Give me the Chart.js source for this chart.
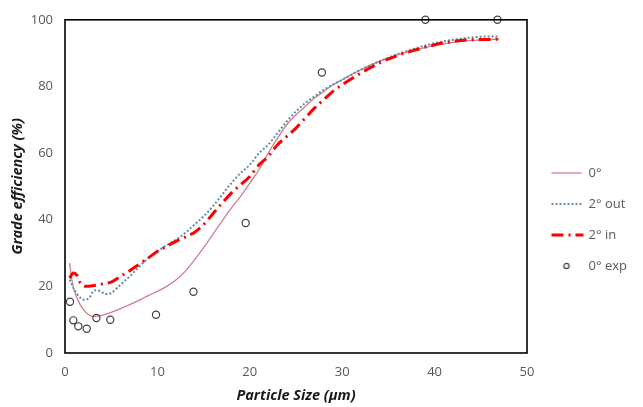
<!DOCTYPE html>
<html>
<head>
<meta charset="utf-8">
<script src="https://cdn.jsdelivr.net/npm/chart.js@4.4.1/dist/chart.umd.min.js"></script>
<style>
  html, body { margin: 0; padding: 0; background: #fff; }
  #wrap { width: 643px; height: 407px; position: relative; }
</style>
</head>
<body>
<div id="wrap"><canvas id="c"></canvas></div>
<script>
// ---- Data ----
const seriesNames = ['0°', '2° out', '2° in', '0° exp'];

const x0 = [0.5, 0.8, 1.3, 2, 3, 4, 5, 6, 7, 8, 9, 10, 11, 12, 13, 14, 15, 16, 17, 18, 19, 20, 21, 22, 23, 24, 25, 26, 27, 28, 29, 30, 32, 34, 36, 38, 40, 42, 44, 46, 47];
const y0 = [27, 21, 16.5, 13, 11, 11.3, 12.2, 13.3, 14.5, 15.8, 17.2, 18.5, 20, 21.9, 24.5, 27.9, 31.6, 35.6, 39.6, 43.5, 47, 51, 55, 60, 64.5, 68.5, 71.5, 74, 76.5, 78.5, 80.5, 82, 85, 87.5, 89.5, 91, 92.3, 93.2, 93.8, 94.1, 94.2];

const x2out = [0.5, 1, 1.5, 2, 2.6, 3.2, 3.8, 4.4, 5, 6, 7, 8, 9, 10, 11, 12, 13, 14, 15, 16, 17, 18, 19, 20, 21, 22, 23, 24, 25, 26, 27, 28, 30, 32, 34, 36, 38, 40, 42, 44, 46, 47];
const y2out = [22, 19, 17, 16, 16.5, 18.8, 18.6, 17.7, 18, 20.5, 23, 25.8, 28.5, 30.5, 32.3, 34, 36, 38.5, 41, 44, 47.5, 51, 54, 56.5, 60, 62.5, 66, 69.5, 72.5, 75, 77, 79, 82, 85, 87.5, 89.7, 91.5, 93, 94, 94.7, 95, 95];

const x2in = [0.5, 0.9, 1.3, 1.6, 2.2, 3, 4, 5, 6, 7, 8, 9, 10, 11, 12, 13, 14, 15, 16, 17, 18, 19, 20, 21, 22, 23, 24, 25, 26, 27, 28, 29, 30, 32, 34, 36, 38, 40, 42, 44, 46, 47];
const y2in = [22.5, 24, 23.3, 21.3, 20, 20.2, 20.7, 21.3, 23, 24.7, 26.6, 28.5, 30.5, 32, 33.5, 34.8, 36.2, 38.5, 41.8, 45, 48, 50.5, 53, 56.5, 59, 62.5, 65, 67.5, 70.5, 73.5, 76, 78.5, 80.5, 84, 87, 89.3, 91, 92.5, 93.5, 94, 94.1, 94.2];

const xExp = [0.54, 0.9, 1.44, 2.35, 3.4, 4.9, 9.85, 13.9, 19.55, 27.8, 39, 46.8];
const yExp = [15.4, 9.8, 8.0, 7.3, 10.5, 10.0, 11.5, 18.4, 39.0, 84.2, 100, 100];

const xTicks = [0, 10, 20, 30, 40, 50];
const yTicks = [0, 20, 40, 60, 80, 100];

const xTitle = 'Particle Size (µm)';
const yTitle = 'Grade efficiency (%)';

// ---- helpers ----
const pts = (xs, ys) => xs.map((x, i) => ({ x: x, y: ys[i] }));

function legendCanvas(kind) {
  const c = document.createElement('canvas');
  c.width = 44; c.height = 8;
  const g = c.getContext('2d');
  const y = 4;
  if (kind === 'solid') {
    g.strokeStyle = '#cf7f86'; g.lineWidth = 1.3;
    g.beginPath(); g.moveTo(10, y); g.lineTo(40, y); g.stroke();
  } else if (kind === 'dot') {
    g.strokeStyle = '#5f8ea6'; g.lineWidth = 2; g.setLineDash([2, 2]);
    g.beginPath(); g.moveTo(10, y); g.lineTo(40, y); g.stroke();
  } else if (kind === 'dashdot') {
    g.strokeStyle = '#ff0000'; g.lineWidth = 3; g.setLineDash([12, 5, 2, 5]);
    g.beginPath(); g.moveTo(10, y); g.lineTo(42, y); g.stroke();
  } else {
    g.strokeStyle = '#404040'; g.lineWidth = 1.2;
    g.beginPath(); g.arc(25, y, 2.6, 0, Math.PI * 2); g.stroke();
  }
  return c;
}
const legendStyles = [legendCanvas('solid'), legendCanvas('dot'), legendCanvas('dashdot'), legendCanvas('circle')];

const frame = {
  id: 'frame',
  afterDatasetsDraw(chart) {
    const a = chart.chartArea, ctx = chart.ctx;
    ctx.save();
    ctx.strokeStyle = '#000';
    ctx.lineWidth = 1.6;
    ctx.strokeRect(a.left, a.top, a.right - a.left, a.bottom - a.top);
    ctx.restore();
  }
};

const legendFix = {
  id: 'legendFix',
  beforeInit(chart) {
    const lg = chart.legend;
    if (!lg) return;
    const fit = lg.fit;
    lg.fit = function () { fit.call(this); this.width = 116; };
  }
};

const tickFont = { family: '"Open Sans", sans-serif', size: 13 };
const titleFont = { family: '"Open Sans", sans-serif', size: 14.5, weight: 'bold', style: 'italic' };

new Chart(document.getElementById('c'), {
  type: 'scatter',
  data: {
    datasets: [
      {
        label: seriesNames[0], data: pts(x0, y0), showLine: true,
        borderColor: '#cf7f86', borderWidth: 1.3, pointRadius: 0,
        cubicInterpolationMode: 'monotone', order: 3
      },
      {
        label: seriesNames[1], data: pts(x2out, y2out), showLine: true,
        borderColor: '#5f8ea6', borderWidth: 2, borderDash: [2, 2], pointRadius: 0,
        cubicInterpolationMode: 'monotone', order: 2
      },
      {
        label: seriesNames[2], data: pts(x2in, y2in), showLine: true,
        borderColor: '#ff0000', borderWidth: 3, borderDash: [12, 5, 2, 5], pointRadius: 0,
        cubicInterpolationMode: 'monotone', order: 1
      },
      {
        label: seriesNames[3], data: pts(xExp, yExp), showLine: false,
        borderColor: '#404040', backgroundColor: 'rgba(0,0,0,0)', borderWidth: 1.2,
        pointRadius: 3.6, pointStyle: 'circle', clip: false, order: 0
      }
    ]
  },
  options: {
    responsive: true,
    maintainAspectRatio: false,
    animation: false,
    layout: { padding: { top: 16, right: 0, bottom: 0, left: 0 } },
    scales: {
      x: {
        type: 'linear', min: 0, max: 50,
        afterBuildTicks: s => { s.ticks = xTicks.map(v => ({ value: v })); },
        afterFit: s => { s.height = 54; },
        grid: { display: false, drawTicks: false },
        border: { display: false },
        ticks: { color: '#595959', font: tickFont, padding: 11 },
        title: { display: true, text: xTitle, color: '#1a1a1a', font: titleFont, padding: { top: 0, bottom: 2 } }
      },
      y: {
        type: 'linear', min: 0, max: 100,
        afterBuildTicks: s => { s.ticks = yTicks.map(v => ({ value: v })); },
        afterFit: s => { s.width = 65; },
        grid: { display: false, drawTicks: false },
        border: { display: false },
        ticks: { color: '#595959', font: tickFont, padding: 12 },
        title: { display: true, text: yTitle, color: '#1a1a1a', font: titleFont, padding: { top: 9, bottom: 0 } }
      }
    },
    plugins: {
      tooltip: { enabled: false },
      legend: {
        position: 'right',
        align: 'center',
        title: { display: true, text: ' ', font: { size: 10 }, padding: 2 },
        labels: {
          usePointStyle: true,
          pointStyleWidth: 37,
          padding: 18,
          color: '#595959',
          font: { family: '"Open Sans", sans-serif', size: 13 },
          generateLabels: chart => chart.data.datasets.map((ds, i) => ({
            text: ds.label,
            pointStyle: legendStyles[i],
            fillStyle: 'rgba(0,0,0,0)',
            strokeStyle: 'rgba(0,0,0,0)',
            lineWidth: 0,
            hidden: false,
            datasetIndex: i,
            fontColor: '#595959'
          }))
        }
      }
    }
  },
  plugins: [frame, legendFix]
});
</script>
</body>
</html>
